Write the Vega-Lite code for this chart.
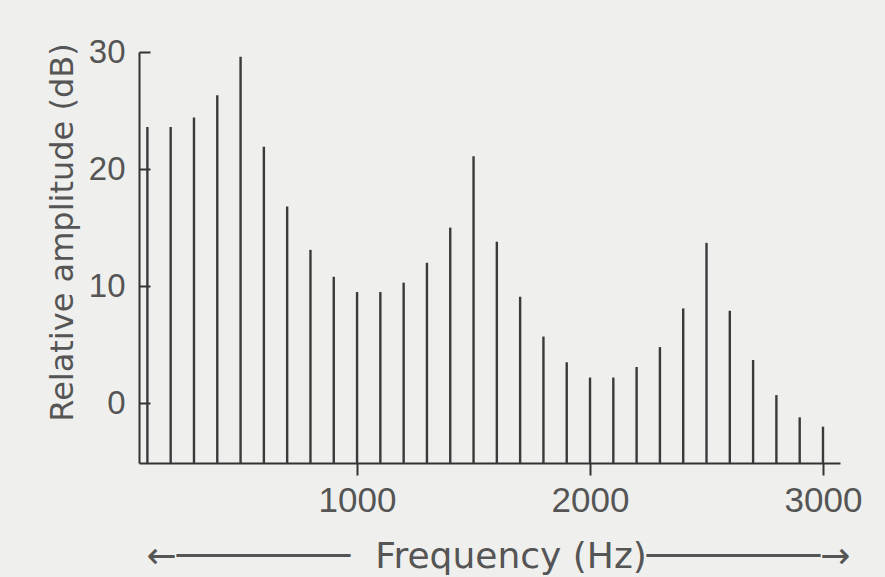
{
  "$schema": "https://vega.github.io/schema/vega-lite/v6.json",
  "autosize": "none",
  "width": 701,
  "height": 411,
  "padding": {"left": 139, "top": 52, "right": 45, "bottom": 114},
  "background": "#eff0ed",
  "config": {
    "view": {"stroke": null},
    "font": "Liberation Sans",
    "axis": {
      "domainColor": "#333333",
      "domainWidth": 2,
      "tickColor": "#333333",
      "tickWidth": 2,
      "grid": false,
      "labelColor": "#555555",
      "titleColor": "#555555",
      "labelFont": "Liberation Sans",
      "titleFont": "DejaVu Sans",
      "titleFontWeight": "normal"
    }
  },
  "data": {
    "values": [
      {"freq": 100, "amp": 23.6},
      {"freq": 200, "amp": 23.6},
      {"freq": 300, "amp": 24.4},
      {"freq": 400, "amp": 26.3},
      {"freq": 500, "amp": 29.6},
      {"freq": 600, "amp": 21.9},
      {"freq": 700, "amp": 16.8},
      {"freq": 800, "amp": 13.1},
      {"freq": 900, "amp": 10.8},
      {"freq": 1000, "amp": 9.5},
      {"freq": 1100, "amp": 9.5},
      {"freq": 1200, "amp": 10.3},
      {"freq": 1300, "amp": 12.0},
      {"freq": 1400, "amp": 15.0},
      {"freq": 1500, "amp": 21.1},
      {"freq": 1600, "amp": 13.8},
      {"freq": 1700, "amp": 9.1},
      {"freq": 1800, "amp": 5.7},
      {"freq": 1900, "amp": 3.5},
      {"freq": 2000, "amp": 2.2},
      {"freq": 2100, "amp": 2.2},
      {"freq": 2200, "amp": 3.1},
      {"freq": 2300, "amp": 4.8},
      {"freq": 2400, "amp": 8.1},
      {"freq": 2500, "amp": 13.7},
      {"freq": 2600, "amp": 7.9},
      {"freq": 2700, "amp": 3.7},
      {"freq": 2800, "amp": 0.7},
      {"freq": 2900, "amp": -1.2},
      {"freq": 3000, "amp": -2.0}
    ]
  },
  "mark": {"type": "rule", "color": "#3a3a3a", "strokeWidth": 2.4},
  "encoding": {
    "x": {
      "field": "freq",
      "type": "quantitative",
      "scale": {"domain": [64, 3073], "nice": false, "zero": false},
      "axis": {
        "values": [1000, 2000, 3000],
        "format": "d",
        "tickSize": 12,
        "labelPadding": 8,
        "labelFontSize": 35,
        "title": "←────────\u2002\u2009Frequency (Hz)────────→",
        "titleFontSize": 36,
        "titleX": 359,
        "titleY": 104,
        "titleBaseline": "alphabetic",
        "titleAnchor": "middle"
      }
    },
    "y": {
      "field": "amp",
      "type": "quantitative",
      "scale": {"domain": [-5.1, 30], "nice": false, "zero": false},
      "axis": {
        "values": [0, 10, 20, 30],
        "tickSize": -11,
        "labelPadding": 25,
        "labelFontSize": 33,
        "title": "Relative amplitude (dB)",
        "titleFontSize": 32,
        "titleX": -67,
        "titleY": 180,
        "titleBaseline": "alphabetic",
        "titleAnchor": "middle"
      }
    },
    "y2": {"datum": -5.1}
  }
}
